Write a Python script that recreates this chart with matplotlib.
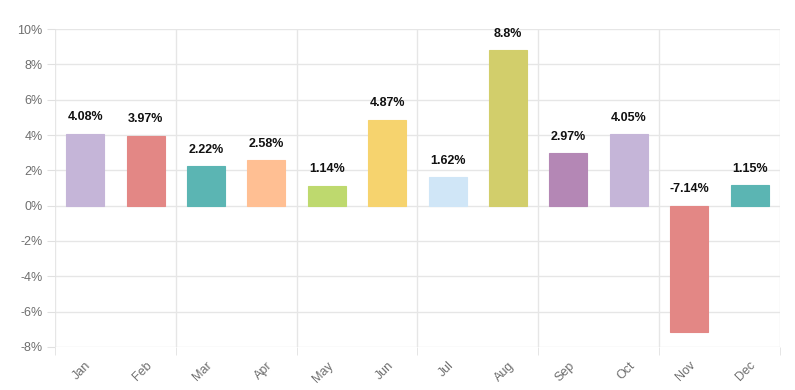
import numpy as np
import matplotlib.pyplot as plt
from matplotlib.ticker import FuncFormatter, FixedLocator

plt.rcParams['font.family'] = ['Liberation Sans', 'DejaVu Sans']

months = ['Jan', 'Feb', 'Mar', 'Apr', 'May', 'Jun', 'Jul', 'Aug', 'Sep', 'Oct', 'Nov', 'Dec']
values = [4.08, 3.97, 2.22, 2.58, 1.14, 4.87, 1.62, 8.8, 2.97, 4.05, -7.14, 1.15]
labels = ['4.08%', '3.97%', '2.22%', '2.58%', '1.14%', '4.87%', '1.62%', '8.8%',
          '2.97%', '4.05%', '-7.14%', '1.15%']
colors = ['#c5b5d8', '#e38785', '#5bb5b3', '#ffbf93', '#bed96e', '#f6d36e',
          '#d0e6f7', '#d2ce6b', '#b487b5', '#c5b5d8', '#e38785', '#5bb5b3']

fig = plt.figure(figsize=(7.95, 3.9), dpi=100)
ax = fig.add_axes([0.0692, 0.1103, 0.9118, 0.8153])

x = np.arange(len(months))
ax.bar(x, values, width=0.63, color=colors, edgecolor=colors, linewidth=0.8, zorder=3)

# 数值标签
for xi, v, t in zip(x, values, labels):
    base = max(v, 0)
    ax.annotate(t, (xi, base), xytext=(0, 7.5), textcoords='offset points',
                ha='center', va='bottom', fontsize=9, fontweight='bold', color='#111111')

ax.set_xlim(-0.5, 11.5)
ax.set_ylim(-8, 10)
ax.set_yticks(np.arange(-8, 11, 2))
ax.yaxis.set_major_formatter(FuncFormatter(lambda v, p: f'{v:.0f}%'))
ax.set_xticks(x)
ax.set_xticklabels(months, rotation=45, ha='right', rotation_mode='anchor',
                   color='#6e6e6e', fontsize=9)
ax.xaxis.set_minor_locator(FixedLocator(np.arange(-0.5, 12, 2)))
ax.tick_params(axis='x', which='major', length=0, pad=9)
ax.tick_params(axis='x', which='minor', length=6, color='#e0e0e0')
ax.tick_params(axis='y', length=6, color='#e0e0e0', labelcolor='#6e6e6e', labelsize=9, pad=3)

ax.grid(axis='y', color='#e6e6e6', linewidth=1, zorder=0)
ax.grid(axis='x', which='minor', color='#e6e6e6', linewidth=1, zorder=0)
for s in ax.spines.values():
    s.set_visible(False)

fig.savefig('out.png', dpi=100)
